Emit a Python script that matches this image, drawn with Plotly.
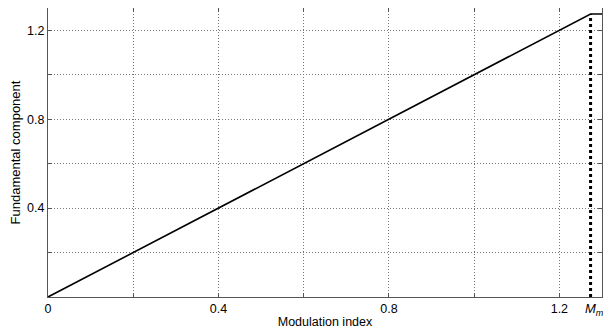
import plotly.graph_objects as go

modulation_index = [0.0, 1.2732, 1.3]
fundamental = [0.0, 1.2732, 1.2732]
m_max = 1.2732
grid_vals = [0, 0.2, 0.4, 0.6, 0.8, 1.0, 1.2]
x_tick_text = ["0", "", "0.4", "", "0.8", "", "1.2"]
y_tick_text = ["", "", "0.4", "", "0.8", "", "1.2"]

FONT = "Liberation Sans, Arial"

fig = go.Figure()
fig.add_trace(go.Scatter(x=modulation_index, y=fundamental, mode="lines",
                         line=dict(color="black", width=1.6), showlegend=False,
                         cliponaxis=False))
fig.add_trace(go.Scatter(x=[m_max, m_max], y=[0, m_max], mode="lines",
                         line=dict(color="black", width=3, dash="dot"), showlegend=False))

axis_common = dict(
    showline=True, linecolor="#555555", linewidth=1, mirror="ticks",
    ticks="inside", ticklen=4, tickcolor="#555555",
    showgrid=True, gridcolor="#777777", griddash="1px,2px", gridwidth=1,
    zeroline=False, tickfont=dict(family=FONT, size=12.5, color="black"),
    tickvals=grid_vals, automargin=False,
)
fig.update_xaxes(range=[0, 1.3], ticktext=x_tick_text,
                 title=dict(text="Modulation index", standoff=2,
                            font=dict(family=FONT, size=12.5, color="black")),
                 **axis_common)
fig.update_yaxes(range=[0, 1.3], ticktext=y_tick_text,
                 title=dict(text="Fundamental component", standoff=4,
                            font=dict(family=FONT, size=13, color="black")),
                 **axis_common)

fig.add_annotation(x=m_max, y=0, xref="x", yref="y", yanchor="top", xanchor="left",
                   xshift=-8, yshift=-2, showarrow=False,
                   text="<i>M</i><sub><i>max</i></sub>",
                   font=dict(family=FONT, size=13, color="black"))

fig.update_layout(width=603, height=322, margin=dict(l=40, r=9, t=0, b=33),
                  plot_bgcolor="white", paper_bgcolor="white")
fig.write_html("out.html")
